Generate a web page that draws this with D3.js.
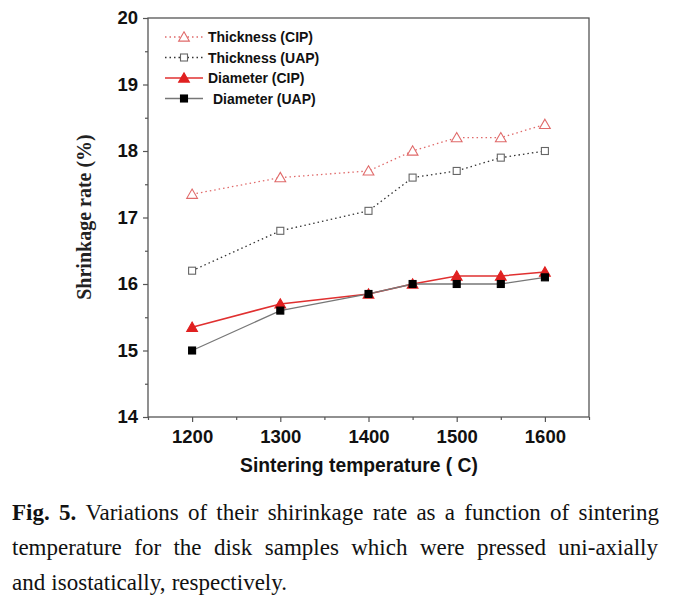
<!DOCTYPE html>
<html><head><meta charset="utf-8">
<script src="https://cdn.jsdelivr.net/npm/d3@7/dist/d3.min.js"></script>
<style>body{margin:0;background:#fff}svg{display:block}</style>
</head><body>
<script>
const temps = [1200, 1300, 1400, 1450, 1500, 1550, 1600];
const thicknessCIP = [17.35, 17.6, 17.7, 18.0, 18.2, 18.2, 18.4];
const thicknessUAP = [16.2, 16.8, 17.1, 17.6, 17.7, 17.9, 18.0];
const diameterCIP = [15.35, 15.7, 15.85, 16.0, 16.12, 16.12, 16.18];
const diameterUAP = [15.0, 15.6, 15.85, 16.0, 16.0, 16.0, 16.1];
const xTicks = [1200, 1300, 1400, 1500, 1600];
const yTicks = [14, 15, 16, 17, 18, 19, 20];
const seriesNames = ["Thickness (CIP)", "Thickness (UAP)", "Diameter (CIP)", "Diameter (UAP)"];
const xTitle = "Sintering temperature ( C)";
const yTitle = "Shrinkage rate (%)";
const captionLines = [
  ["Fig. 5.", "Variations of their shirinkage rate as a function of sintering"],
  ["", "temperature for the disk samples which were pressed uni-axially"],
  ["", "and isostatically, respectively."]
];

const W = 679, H = 603;
const m = {l: 148, r: 589, t: 18, b: 417};
const svg = d3.select("body").append("svg").attr("width", W).attr("height", H);
const x = d3.scaleLinear().domain([1150, 1650]).range([m.l, m.r]);
const y = d3.scaleLinear().domain([14, 20]).range([m.b, m.t]);
const sans = "'Liberation Sans', Arial, Helvetica, sans-serif";
const serif = "'Liberation Serif', 'Times New Roman', Times, serif";
const axisCol = "#555";

// frame
svg.append("rect").attr("x", m.l).attr("y", m.t).attr("width", m.r - m.l).attr("height", m.b - m.t)
  .attr("fill", "none").attr("stroke", axisCol).attr("stroke-width", 1.3);

// x axis
svg.append("g").attr("transform", `translate(0,${m.b})`)
  .call(d3.axisBottom(x).tickValues(xTicks).tickSize(5).tickPadding(8).tickFormat(d3.format("d")));
svg.append("g").attr("transform", `translate(0,${m.b})`)
  .call(d3.axisBottom(x).tickValues(d3.range(1150, 1651, 100)).tickSize(3).tickFormat(""));
// y axis
svg.append("g").attr("transform", `translate(${m.l},0)`)
  .call(d3.axisLeft(y).tickValues(yTicks).tickSize(5).tickPadding(5).tickFormat(d3.format("d")));
svg.append("g").attr("transform", `translate(${m.l},0)`)
  .call(d3.axisLeft(y).tickValues(d3.range(14.5, 20, 1)).tickSize(3).tickFormat(""));
svg.selectAll(".domain").remove();
svg.selectAll(".tick line").attr("stroke", axisCol).attr("stroke-width", 1.2);
svg.selectAll(".tick text").style("font-family", sans).attr("font-weight", "bold").attr("font-size", 18.5).attr("fill", "#111");

// titles
svg.append("text").attr("x", 359).attr("y", 472).attr("text-anchor", "middle")
  .style("font-family", sans).attr("font-weight", "bold").attr("font-size", 19.3).attr("fill", "#111").text(xTitle);
svg.append("text").attr("transform", "translate(91,217) rotate(-90)").attr("text-anchor", "middle")
  .style("font-family", serif).attr("font-weight", "bold").attr("font-size", 20).attr("fill", "#222").text(yTitle);

// series
const series = [
  {vals: thicknessCIP, line: "#e06a6a", dash: "1.5,3", w: 1.3, mk: "tri", fill: "#fff", mstroke: "#e06a6a"},
  {vals: thicknessUAP, line: "#333", dash: "1.5,3", w: 1.3, mk: "sq", fill: "#fff", mstroke: "#666"},
  {vals: diameterCIP, line: "#e03030", dash: null, w: 1.5, mk: "tri", fill: "#e02020", mstroke: "#e02020"},
  {vals: diameterUAP, line: "#777", dash: null, w: 1.3, mk: "sq", fill: "#000", mstroke: "#000"}
];
const line = d3.line().x(d => x(d[0])).y(d => y(d[1]));
function marker(g, type, cx, cy) {
  if (type === "tri") {
    return g.append("path").attr("d", d3.symbol(d3.symbolTriangle, 50)()).attr("transform", `translate(${cx},${cy + 1})`);
  }
  return g.append("rect").attr("x", cx - 3.5).attr("y", cy - 3.5).attr("width", 7).attr("height", 7);
}
series.forEach(s => {
  const pts = temps.map((t, i) => [t, s.vals[i]]);
  const p = svg.append("path").attr("d", line(pts)).attr("fill", "none").attr("stroke", s.line).attr("stroke-width", s.w);
  if (s.dash) p.attr("stroke-dasharray", s.dash);
});
series.forEach(s => {
  const g = svg.append("g");
  temps.forEach((t, i) => {
    marker(g, s.mk, x(t), y(s.vals[i])).attr("fill", s.fill).attr("stroke", s.mstroke).attr("stroke-width", 1.1);
  });
});

// legend
const legY = [37, 57.5, 78, 98.5];
const legTx = [208, 208, 208, 213];
series.forEach((s, i) => {
  const g = svg.append("g");
  const l = g.append("line").attr("x1", 165).attr("x2", 203).attr("y1", legY[i]).attr("y2", legY[i])
    .attr("stroke", s.line).attr("stroke-width", s.w);
  if (s.dash) l.attr("stroke-dasharray", s.dash);
  marker(g, s.mk, 184, legY[i]).attr("fill", s.fill).attr("stroke", s.mstroke).attr("stroke-width", 1.1);
  g.append("text").attr("x", legTx[i]).attr("y", legY[i] + 5).style("font-family", sans).attr("font-weight", "bold")
    .attr("font-size", 14).attr("fill", "#111").text(seriesNames[i]);
});

// caption (justified)
const capX0 = 12, baseY = [520, 555, 590], fs = 23;
const lineEnd = [659, 658, 287];
function words(li) {
  const out = [];
  if (captionLines[li][0]) captionLines[li][0].split(" ").forEach(w => out.push({t: w, b: true}));
  captionLines[li][1].split(" ").forEach(w => out.push({t: w, b: false}));
  return out;
}
const tmp = svg.append("g");
function measure(w) {
  const t = tmp.append("text").style("font-family", serif).attr("font-size", fs).attr("font-weight", w.b ? "bold" : "normal").text(w.t);
  const len = t.node().getComputedTextLength(); t.remove(); return len;
}
captionLines.forEach((ln, li) => {
  const ws = words(li);
  let widths = ws.map(measure);
  const avail = lineEnd[li] - capX0;
  let sx = 1;
  const minGap = 6;
  if (d3.sum(widths) + minGap * (ws.length - 1) > avail) {
    sx = (avail - minGap * (ws.length - 1)) / d3.sum(widths);
    widths = widths.map(w => w * sx);
  }
  const gap = (avail - d3.sum(widths)) / (ws.length - 1);
  let cx = capX0;
  ws.forEach((w, k) => {
    svg.append("text").attr("transform", `translate(${cx},${baseY[li]}) scale(${sx},1)`)
      .style("font-family", serif).attr("font-size", fs).attr("font-weight", w.b ? "bold" : "normal")
      .attr("fill", "#111").text(w.t);
    cx += widths[k] + gap;
  });
});
tmp.remove();
</script>
</body></html>
